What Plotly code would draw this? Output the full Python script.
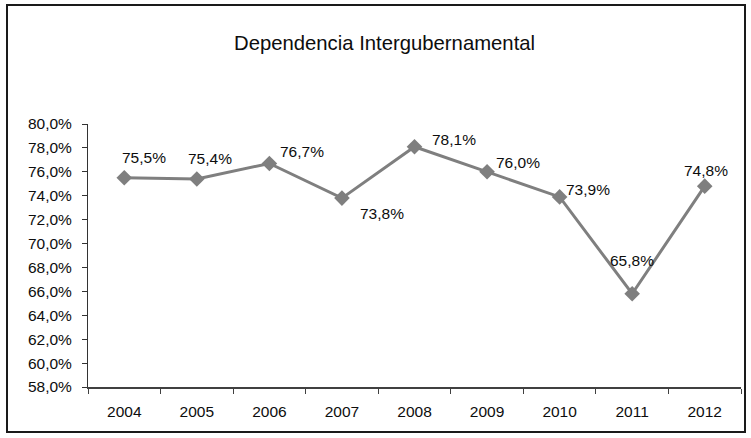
import plotly.graph_objects as go

years = ["2004", "2005", "2006", "2007", "2008", "2009", "2010", "2011", "2012"]
dependencia = [75.5, 75.4, 76.7, 73.8, 78.1, 76.0, 73.9, 65.8, 74.8]
y_ticks = [58, 60, 62, 64, 66, 68, 70, 72, 74, 76, 78, 80]

# label placement (styling): xanchor, xshift, yshift
label_style = [
    ("left", -4, 20), ("left", -11, 20), ("left", 9, 12), ("left", 16, -15),
    ("left", 15, 7), ("left", 7, 9), ("left", 4, 7), ("center", 0, 33), ("center", 1, 16),
]

FONT = "Liberation Sans, Arial, sans-serif"
FS = 15.5

def fmt(v):
    return f"{v:.1f}%".replace(".", ",")

fig = go.Figure()
fig.add_trace(go.Scatter(
    x=list(range(len(years))), y=dependencia, mode="lines+markers",
    line=dict(color="#7f7f7f", width=3),
    marker=dict(symbol="diamond", size=12, color="#7f7f7f"),
    hoverinfo="skip", showlegend=False,
))

W, H = 751, 438
ml, mr, mt, mb = 88, 10, 124, 51
pw, ph = W - ml - mr, H - mt - mb

def px(xp):
    return (xp - ml) / pw

def py(yp):
    return (H - mb - yp) / ph

annotations = []
for i, (v, (anc, xs, ys)) in enumerate(zip(dependencia, label_style)):
    annotations.append(dict(
        x=i, y=v, xref="x", yref="y", showarrow=False,
        text=fmt(v),
        xanchor=anc, yanchor="middle", xshift=xs, yshift=ys,
        font=dict(family=FONT, size=FS, color="#0d0d0d"),
    ))

annotations.append(dict(
    x=px(384), y=py(43), xref="paper", yref="paper", showarrow=False,
    text="Dependencia Intergubernamental", xanchor="center", yanchor="middle",
    font=dict(family=FONT, size=20.3, color="#0d0d0d"),
))

fig.update_layout(
    width=W, height=H,
    margin=dict(l=ml, r=mr, t=mt, b=mb),
    paper_bgcolor="white", plot_bgcolor="white",
    font=dict(family=FONT, size=FS, color="#0d0d0d"),
    annotations=annotations,
    shapes=[dict(type="rect", xref="paper", yref="paper",
                 x0=px(7), x1=px(745), y0=py(432), y1=py(5),
                 line=dict(color="#1a1a1a", width=2))],
)
fig.update_xaxes(
    range=[-0.5, len(years) - 0.5],
    tickvals=list(range(len(years))), ticktext=years,
    ticks="", showline=True, linecolor="#404040", linewidth=2,
    showgrid=False, zeroline=False, ticklabelstandoff=9,
    minor=dict(tickvals=[i - 0.5 for i in range(len(years) + 1)],
               ticks="outside", ticklen=5, tickcolor="#404040", tickwidth=1,
               showgrid=False),
    tickfont=dict(family=FONT, size=FS, color="#0d0d0d"),
)
fig.update_yaxes(
    range=[58, 80], tickvals=y_ticks, ticktext=[fmt(t) for t in y_ticks],
    ticks="outside", ticklen=5, tickcolor="#333333", tickwidth=1,
    showline=True, linecolor="#333333", linewidth=1,
    showgrid=False, zeroline=False, ticklabelstandoff=7,
    tickfont=dict(family=FONT, size=FS, color="#0d0d0d"),
)

fig.write_html("out.html", config={"displayModeBar": False},
               post_script="document.body.style.margin='0';")
